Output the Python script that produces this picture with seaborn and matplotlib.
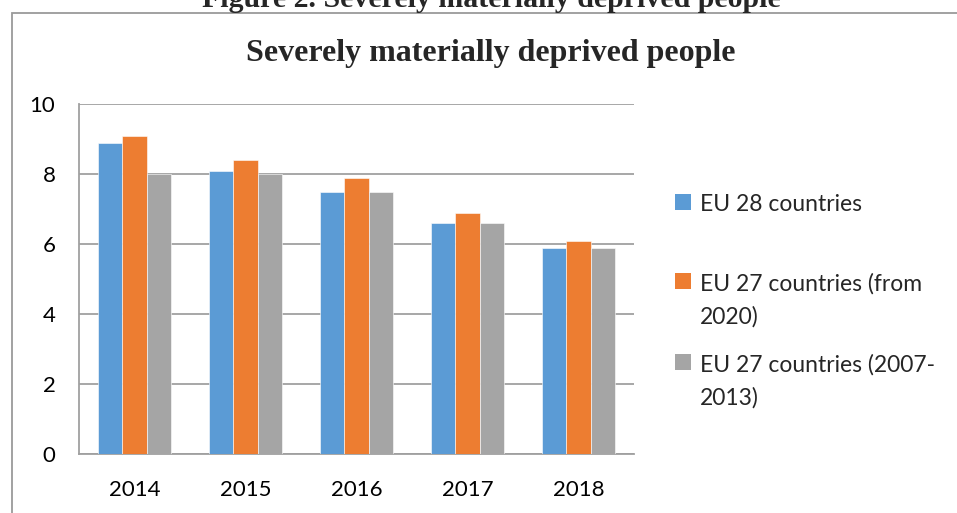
import matplotlib
matplotlib.use("Agg")
import matplotlib.pyplot as plt
import seaborn as sns
import pandas as pd
from matplotlib.patches import Rectangle

years = ["2014", "2015", "2016", "2017", "2018"]
series_names = ["EU 28 countries", "EU 27 countries (from 2020)", "EU 27 countries (2007-2013)"]
eu28 = [8.9, 8.1, 7.5, 6.6, 5.9]
eu27_2020 = [9.1, 8.4, 7.9, 6.9, 6.1]
eu27_2007 = [8.0, 8.0, 7.5, 6.6, 5.9]
legend_labels = ["EU 28 countries\n ", "EU 27 countries (from\n2020)", "EU 27 countries (2007-\n2013)"]
colors = ["#5B9BD5", "#ED7D31", "#A5A5A5"]
yticks = [0, 2, 4, 6, 8, 10]

df = pd.DataFrame({
    "year": years * 3,
    "series": [series_names[0]] * 5 + [series_names[1]] * 5 + [series_names[2]] * 5,
    "value": eu28 + eu27_2020 + eu27_2007,
})

sns.set_theme(style="white")
plt.rcParams["font.family"] = ["Lato", "DejaVu Sans"]

fig = plt.figure(figsize=(9.57, 5.13), dpi=100)
ax = fig.add_axes([79 / 957, 1 - 454 / 513, (634 - 79) / 957, (454 - 104) / 513])

sns.barplot(data=df, x="year", y="value", hue="series", hue_order=series_names,
            order=years, palette=colors, width=0.66, ax=ax, legend=False,
            saturation=1, edgecolor="white", linewidth=0.4, zorder=3)

ax.set_xlim(-0.5, 4.5)
ax.set_ylim(0, 10)
ax.set_yticks(yticks)
ax.set_yticklabels([str(t) for t in yticks])
ax.set_xlabel("")
ax.set_ylabel("")
ax.yaxis.grid(True, color="#A0A0A0", linewidth=1.3, zorder=0)
ax.set_axisbelow(True)
for s in ["top", "right"]:
    ax.spines[s].set_visible(False)
for s in ["left", "bottom"]:
    ax.spines[s].set_color("#A0A0A0")
    ax.spines[s].set_linewidth(1.3)
ax.tick_params(axis="y", length=0, pad=17, labelsize=16, labelcolor="black")
ax.tick_params(axis="x", length=0, pad=19, labelsize=16, labelcolor="black")

handles = [Rectangle((0, 0), 1, 1, facecolor=c, edgecolor="none") for c in colors]
leg = ax.legend(handles, legend_labels, loc="upper left",
                bbox_to_anchor=(675 / 957, 1 - 194 / 513),
                bbox_transform=fig.transFigure, frameon=False, fontsize=16.5,
                handlelength=0.68, handleheight=0.68, handletextpad=0.4,
                labelspacing=1.15, borderpad=0, borderaxespad=0)
for t in leg.get_texts():
    t.set_linespacing(1.65)
try:
    for col in leg._legend_handle_box.get_children():
        for hp in col.get_children():
            hp.align = "top"
except Exception:
    pass

fig.text(0.513, 1.0 - 7 / 513, "Figure 2. Severely materially deprived people",
         ha="center", va="baseline", fontsize=21.5, fontweight="bold",
         family="Liberation Serif")
fig.text(0.513, 1 - 54 / 513, "Severely materially deprived people",
         ha="center", va="center", fontsize=23, fontweight="bold",
         family="Liberation Serif")

box = Rectangle((11.5 / 957, -0.5), 2.0, 1.5 - 13 / 513, transform=fig.transFigure,
                fill=False, edgecolor="#9A9A9A", linewidth=1.3, clip_on=False)
fig.add_artist(box)

fig.savefig("out.png", dpi=100)
